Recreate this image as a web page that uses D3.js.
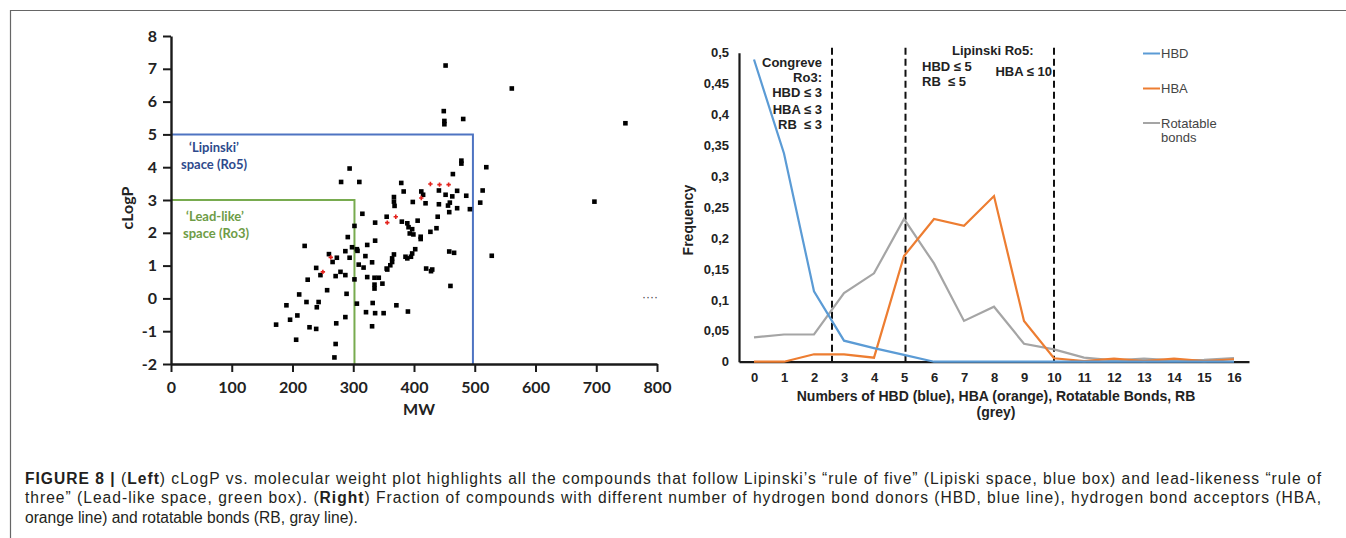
<!DOCTYPE html>
<html><head><meta charset="utf-8">
<script src="https://cdn.jsdelivr.net/npm/d3@7"></script>
<style>body{margin:0;background:#fff} svg{display:block}</style>
</head><body>
<svg id="c" width="1346" height="538"></svg>
<script>
// ---------- Left panel data (cLogP vs MW) ----------
const mwValues = [452,561,748,449,450,450,481,478,478,519,464,513,509,697,528,458,466,460,492,486,471,463,452,459,456,458,471,441,441,419,412,415,439,398,379,383,367,367,368,355,380,389,391,397,406,393,399,411,411,427,437,402,397,395,386,389,367,364,364,361,355,420,430,428,294,280,310,315,336,302,291,323,336,220,298,306,260,266,273,287,294,307,309,317,320,331,356,323,335,342,335,335,348,302,287,271,279,239,246,225,257,289,211,190,223,243,240,306,332,371,390,321,336,350,287,272,208,196,173,228,239,331,206,271,269];
const clogpValues = [7.10,6.40,5.34,5.71,5.41,5.31,5.47,4.20,4.11,4.00,3.79,3.29,2.92,2.95,1.30,1.43,1.39,0.38,2.72,3.13,3.28,3.11,3.16,2.92,2.83,2.63,2.75,3.29,2.87,2.90,3.26,3.16,2.49,2.94,3.52,3.26,3.09,2.95,2.82,2.49,2.34,2.29,2.17,2.11,2.37,1.98,1.95,1.88,1.81,2.03,2.14,1.50,1.37,1.27,1.27,1.22,1.34,1.22,1.11,1.01,0.91,0.91,0.88,0.83,3.96,3.55,3.55,2.58,2.31,2.21,1.87,1.63,1.76,1.60,1.56,1.50,1.35,1.11,1.24,1.44,1.24,1.45,1.03,0.94,1.29,1.10,0.88,0.65,0.63,0.63,0.42,0.30,0.45,0.58,0.71,0.68,0.81,0.93,0.71,0.57,0.25,0.14,0.12,-0.21,-0.11,-0.11,-0.27,-0.16,-0.14,-0.21,-0.40,-0.42,-0.45,-0.45,-0.57,-0.76,-0.52,-0.65,-0.80,-0.88,-0.93,-0.85,-1.26,-1.39,-1.80];
const redMw = [370,356,412,427,442,457,263,250];
const redClogp = [2.49,2.31,3.06,3.49,3.47,3.47,1.25,0.81];
const mwTicks = [0,100,200,300,400,500,600,700,800];
const clogpTicks = [-2,-1,0,1,2,3,4,5,6,7,8];
const clogpLabels = ["-2","-1","0","1","2","3","4","5","6","7","8"];
const ro5Limits = [497, 5];   // MW, cLogP
const ro3Limits = [302, 3];

// ---------- Right panel data (frequency) ----------
const countTicks = [0,1,2,3,4,5,6,7,8,9,10,11,12,13,14,15,16];
const hbdFreq = [0.489,0.337,0.114,0.034,0.022,0.011,0,0,0,0,0,0,0,0,0,0,0];
const hbaFreq = [0,0,0.012,0.012,0.0065,0.171,0.231,0.220,0.268,0.066,0.0055,0.001,0.005,0.001,0.005,0.001,0.004];
const rbFreq  = [0.0395,0.044,0.044,0.111,0.143,0.231,0.159,0.066,0.089,0.029,0.020,0.0065,0.002,0.005,0.002,0.003,0.006];
const freqTicks = [0,0.05,0.1,0.15,0.2,0.25,0.3,0.35,0.4,0.45,0.5];
const freqLabels = ["0","0,05","0,1","0,15","0,2","0,25","0,3","0,35","0,4","0,45","0,5"];
const cutoffs = [2.6, 5.05, 10];
const seriesNames = ["HBD","HBA","Rotatable"];

const svg = d3.select("#c");
const LF = "Lato, 'Open Sans', sans-serif";
const AF = "'Liberation Sans', Arial, sans-serif";

// frame
svg.append("line").attr("x1",10).attr("x2",1346).attr("y1",10.5).attr("y2",10.5).attr("stroke","#666").attr("stroke-width",1.2);
svg.append("line").attr("x1",10.5).attr("x2",10.5).attr("y1",10).attr("y2",538).attr("stroke","#666").attr("stroke-width",1.2);

// ===== LEFT =====
const x1 = d3.scaleLinear().domain([0,800]).range([171,657]);
const y1 = d3.scaleLinear().domain([-2,8]).range([364,36]);
const gL = svg.append("g");

const blue = "#4e74c2", green = "#78ab4f";
gL.append("path").attr("fill","none").attr("stroke",blue).attr("stroke-width",2)
  .attr("d",`M${x1(0)},${y1(ro5Limits[1])}H${x1(ro5Limits[0])}V${y1(-2)}`);
gL.append("path").attr("fill","none").attr("stroke",green).attr("stroke-width",2)
  .attr("d",`M${x1(0)},${y1(ro3Limits[1])}H${x1(ro3Limits[0])}V${y1(-2)}`);

const axL = gL.append("g").attr("transform",`translate(${x1(0)},0)`)
  .call(d3.axisLeft(y1).tickValues(clogpTicks).tickFormat((d,i)=>clogpLabels[i]).tickSize(8).tickSizeOuter(0).tickPadding(6));
const axB = gL.append("g").attr("transform",`translate(0,${y1(-2)})`)
  .call(d3.axisBottom(x1).tickValues(mwTicks).tickSize(8).tickSizeOuter(0).tickPadding(10));
[axL,axB].forEach(a=>{
  a.select(".domain").attr("stroke","#1a1a1a").attr("stroke-width",2.4);
  a.selectAll(".tick line").attr("stroke","#1a1a1a").attr("stroke-width",2);
  a.selectAll("text").attr("font-family",LF).attr("font-weight",700).attr("font-size",16).attr("fill","#222");
});

gL.selectAll("rect.pt").data(mwValues).join("rect").attr("class","pt")
  .attr("x",(d)=>x1(d)-2.3).attr("y",(d,i)=>y1(clogpValues[i])-2.3)
  .attr("width",4.6).attr("height",4.6).attr("fill","#000");
gL.selectAll("path.red").data(redMw).join("path").attr("class","red")
  .attr("d",(d,i)=>{const cx=x1(d),cy=y1(redClogp[i]);return `M${cx-2.2},${cy}H${cx+2.2}M${cx},${cy-2.2}V${cy+2.2}`;})
  .attr("stroke","#e3221c").attr("stroke-width",1.6);

const lab = (t,x,y,c)=>gL.append("text").attr("x",x).attr("y",y).attr("text-anchor","middle")
  .attr("font-family",LF).attr("font-weight",700).attr("font-size",13).attr("fill",c).text(t);
lab("\u2018Lipinski\u2019",214,152,"#2e4a8c");
lab("space (Ro5)",214,169,"#2e4a8c");
lab("\u2018Lead-like\u2019",215,221,"#6e9c46");
lab("space (Ro3)",216,238,"#6e9c46");
gL.append("text").attr("transform","translate(133,208) rotate(-90)").attr("text-anchor","middle")
  .attr("font-family",LF).attr("font-weight",700).attr("font-size",16).attr("fill","#222").text("cLogP");
gL.append("text").attr("x",419).attr("y",415).attr("text-anchor","middle")
  .attr("font-family",LF).attr("font-weight",700).attr("font-size",16).attr("fill","#222").text("MW");
gL.append("text").attr("x",650).attr("y",301).attr("text-anchor","middle")
  .attr("font-family",AF).attr("font-size",12).attr("fill","#444").text("\u00b7\u00b7\u00b7\u00b7");

// ===== RIGHT =====
const x2 = d3.scaleLinear().domain([-0.5,16.5]).range([739,1249]);
const y2 = d3.scaleLinear().domain([0,0.5]).range([361.7,52.7]);
const gR = svg.append("g");

const axL2 = gR.append("g").attr("transform",`translate(${x2(-0.5)},0)`)
  .call(d3.axisLeft(y2).tickValues(freqTicks).tickFormat((d,i)=>freqLabels[i]).tickSize(0).tickSizeOuter(0).tickPadding(10));
const axB2 = gR.append("g").attr("transform",`translate(0,${y2(0)})`)
  .call(d3.axisBottom(x2).tickValues(countTicks).tickSize(0).tickSizeOuter(0).tickPadding(11));
[axL2,axB2].forEach(a=>{
  a.select(".domain").attr("stroke","#1a1a1a").attr("stroke-width",2.2);
  a.selectAll("text").attr("font-family",AF).attr("font-weight",700).attr("font-size",13).attr("fill","#222");
});

gR.selectAll("line.cut").data(cutoffs).join("line").attr("class","cut")
  .attr("x1",d=>x2(d)).attr("x2",d=>x2(d)).attr("y1",y2(0.508)).attr("y2",y2(0))
  .attr("stroke","#111").attr("stroke-width",2).attr("stroke-dasharray","7,4");

const line2 = d3.line().x((d,i)=>x2(countTicks[i])).y(d=>y2(d));
const cols = {HBD:"#5b9bd5",HBA:"#ed7d31",Rotatable:"#a5a5a5"};
gR.append("path").attr("d",line2(rbFreq)).attr("fill","none").attr("stroke",cols.Rotatable).attr("stroke-width",2.2);
gR.append("path").attr("d",line2(hbaFreq)).attr("fill","none").attr("stroke",cols.HBA).attr("stroke-width",2.2);
gR.append("path").attr("d",line2(hbdFreq)).attr("fill","none").attr("stroke",cols.HBD).attr("stroke-width",2.2);

const ann = (t,x,y,anchor)=>gR.append("text").attr("x",x).attr("y",y).attr("text-anchor",anchor)
  .attr("font-family",AF).attr("font-weight",700).attr("font-size",13).attr("fill","#222")
  .style("white-space","pre").text(t);
ann("Congreve",822,67,"end");
ann("Ro3:",822,82,"end");
ann("HBD \u2264 3",822,97,"end");
ann("HBA \u2264 3",822,114,"end");
ann("RB  \u2264 3",822,129,"end");
ann("Lipinski Ro5:",952,55,"start");
ann("HBD \u2264 5",922,71,"start");
ann("RB  \u2264 5",922,86,"start");
ann("HBA \u2264 10",1052,76,"end");

const legY = [53.5,88.5,123];
seriesNames.forEach((n,i)=>{
  gR.append("line").attr("x1",1143).attr("x2",1160).attr("y1",legY[i]).attr("y2",legY[i])
    .attr("stroke",cols[n]).attr("stroke-width",2);
  gR.append("text").attr("x",1161).attr("y",legY[i]+4.5).attr("font-family",AF).attr("font-size",13)
    .attr("fill","#444").text(n);
});
gR.append("text").attr("x",1161).attr("y",142).attr("font-family",AF).attr("font-size",13).attr("fill","#444").text("bonds");

gR.append("text").attr("transform","translate(693,220) rotate(-90)").attr("text-anchor","middle")
  .attr("font-family",AF).attr("font-weight",700).attr("font-size",14).attr("fill","#222").text("Frequency");
gR.append("text").attr("x",996).attr("y",401).attr("text-anchor","middle")
  .attr("font-family",AF).attr("font-weight",700).attr("font-size",14).attr("fill","#222")
  .text("Numbers of HBD (blue), HBA (orange), Rotatable Bonds, RB");
gR.append("text").attr("x",996).attr("y",417).attr("text-anchor","middle")
  .attr("font-family",AF).attr("font-weight",700).attr("font-size",14).attr("fill","#222").text("(grey)");

// ===== CAPTION =====
const capLines = [
  [["FIGURE 8 | ",1],["(",0],["Left",1],[") cLogP vs. molecular weight plot highlights all the compounds that follow Lipinski\u2019s \u201crule of five\u201d (Lipiski space, blue box) and lead-likeness \u201crule of",0]],
  [["three\u201d (Lead-like space, green box). (",0],["Right",1],[") Fraction of compounds with different number of hydrogen bond donors (HBD, blue line), hydrogen bond acceptors (HBA,",0]],
  [["orange line) and rotatable bonds (RB, gray line).",0]]
];
const capY = [483.5,503,522.5];
capLines.forEach((parts,li)=>{
  const t = svg.append("text").attr("x",25).attr("y",capY[li]).attr("font-family",AF)
    .attr("font-size",15.6).attr("fill","#231f20");
  parts.forEach(p=>t.append("tspan").attr("font-weight",p[1]?700:400).text(p[0]));
  if(li<2){
    const natural = t.node().getComputedTextLength();
    const chars = parts.map(p=>p[0]).join("").length;
    const target = 1297;
    t.attr("letter-spacing",(target-natural)/chars);
  }
});
</script>
</body></html>
